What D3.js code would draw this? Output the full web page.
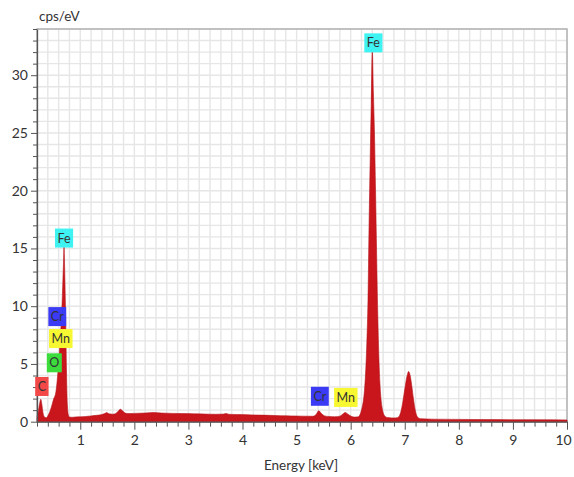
<!DOCTYPE html>
<html>
<head>
<meta charset="utf-8">
<script src="https://cdn.jsdelivr.net/npm/d3@7"></script>
<style>
  body { margin: 0; background: #fff; }
  text { font-family: Lato, "Open Sans", sans-serif; fill: #333; }
</style>
</head>
<body>
<svg id="chart" width="574" height="477"></svg>
<script>
// spectrum (keV, cps/eV)
const energy = [
  0.20, 0.22, 0.25, 0.27, 0.29, 0.31, 0.34, 0.37, 0.40, 0.44, 0.48, 0.51, 0.53,
  0.55, 0.57, 0.59, 0.61, 0.63, 0.65, 0.67, 0.69, 0.70, 0.71, 0.73, 0.745, 0.76,
  0.78, 0.80, 0.85, 0.90, 1.00, 1.10, 1.20, 1.30, 1.40, 1.45, 1.49, 1.53, 1.60,
  1.66, 1.70, 1.74, 1.78, 1.83, 1.90, 2.00, 2.20, 2.35, 2.50, 2.70, 2.90, 3.10,
  3.30, 3.50, 3.65, 3.70, 3.75, 3.90, 4.10, 4.30, 4.50, 4.70, 4.90, 5.10, 5.30,
  5.36, 5.41, 5.46, 5.52, 5.60, 5.70, 5.80, 5.85, 5.90, 5.95, 6.02, 6.08,
  6.14, 6.18, 6.21, 6.24, 6.26, 6.28, 6.30, 6.32, 6.34, 6.36, 6.38, 6.40, 6.42,
  6.44, 6.46, 6.48, 6.50, 6.52, 6.54, 6.56, 6.59, 6.63, 6.68, 6.76, 6.82,
  6.86, 6.90, 6.93, 6.96, 6.99, 7.02, 7.05, 7.07, 7.10, 7.13, 7.16, 7.19, 7.22,
  7.26, 7.32, 7.50, 8.00, 8.50, 9.00, 9.50, 10.00
];
const cps = [
  0.35, 0.8, 1.6, 1.95, 1.5, 0.8, 0.4, 0.35, 0.5, 0.9, 1.5, 2.0, 2.2,
  2.6, 3.4, 4.5, 5.8, 7.2, 8.8, 11.0, 13.8, 15.2, 13.5, 9.0, 4.5, 1.6,
  0.6, 0.4, 0.38, 0.4, 0.42, 0.45, 0.5, 0.55, 0.62, 0.7, 0.8, 0.68, 0.65,
  0.72, 0.9, 1.08, 0.95, 0.75, 0.7, 0.72, 0.75, 0.8, 0.75, 0.72, 0.7, 0.68,
  0.66, 0.64, 0.66, 0.72, 0.64, 0.62, 0.6, 0.57, 0.55, 0.52, 0.5, 0.48, 0.47,
  0.62, 0.95, 0.7, 0.5, 0.45, 0.43, 0.48, 0.65, 0.8, 0.65, 0.45, 0.4,
  0.42, 0.7, 1.2, 2.0, 3.0, 4.6, 7.0, 10.5, 17.0, 22.5, 27.5, 32.2, 28.5,
  25.0, 20.0, 14.5, 9.5, 5.8, 3.4, 2.0, 1.0, 0.5, 0.36, 0.33, 0.33,
  0.35, 0.5, 0.9, 1.6, 2.5, 3.4, 4.1, 4.35, 4.0, 3.1, 2.0, 1.1, 0.55,
  0.3, 0.25, 0.22, 0.2, 0.18, 0.17, 0.17, 0.15
];

// element labels
const labelText   = ["Fe", "Fe", "Cr", "Mn", "O", "C", "Cr", "Mn"];
const labelEnergy = [6.42, 0.70, 0.575, 0.64, 0.52, 0.29, 5.43, 5.91];
const labelCps    = [32.8, 15.9, 9.1, 7.2, 5.1, 3.05, 2.2, 2.1];
const labelFill   = ["#3ff3f3", "#3ff3f3", "#3b3bf5", "#f8f832", "#3ddc3d", "#f24848", "#3b3bf5", "#f8f832"];
const labelInk    = ["#222", "#222", "#fff", "#222", "#222", "#222", "#fff", "#222"];

const xTicks = [1, 2, 3, 4, 5, 6, 7, 8, 9, 10];
const yTicks = [0, 5, 10, 15, 20, 25, 30];

const svg = d3.select('#chart');

const x = d3.scaleLinear().domain([0.2, 10]).range([37, 567]);
const y = d3.scaleLinear().domain([0, 34]).range([421.7, 29]);

// grid
const xGrid = d3.range(2, 101, 2).map(v => v / 10);
const yGrid = d3.range(1, 35);
svg.append('g')
  .attr('stroke', '#e6e6e6')
  .attr('stroke-width', 1.4)
  .selectAll('line')
  .data(xGrid)
  .join('line')
    .attr('x1', d => x(d)).attr('x2', d => x(d))
    .attr('y1', y(0)).attr('y2', y(34));
svg.append('g')
  .attr('stroke', '#e6e6e6')
  .attr('stroke-width', 1.4)
  .selectAll('line')
  .data(yGrid)
  .join('line')
    .attr('x1', x(0.2)).attr('x2', x(10))
    .attr('y1', d => y(d)).attr('y2', d => y(d));

// frame
svg.append('rect')
  .attr('x', x(0.2)).attr('y', y(34))
  .attr('width', x(10) - x(0.2)).attr('height', y(0) - y(34))
  .attr('fill', 'none')
  .attr('stroke', '#b3b3b3')
  .attr('stroke-width', 1.5);

// spectrum
const pts = energy.map((e, i) => [e, cps[i]]);
const area = d3.area()
  .x(d => x(d[0]))
  .y0(y(0))
  .y1(d => y(d[1]))
  .curve(d3.curveMonotoneX);
svg.append('path')
  .datum(pts)
  .attr('d', area)
  .attr('fill', '#c8161c')
  .attr('stroke', '#b5121a')
  .attr('stroke-width', 0.6);

// axes
svg.append('g')
  .attr('transform', `translate(0,${y(0)})`)
  .call(d3.axisBottom(x).tickValues(xTicks).tickSize(8).tickPadding(5).tickSizeOuter(0))
  .call(g => g.selectAll('.tick text').filter(d => d === 10).attr('dx', -4));
svg.append('g')
  .attr('transform', `translate(0,${y(0)})`)
  .call(d3.axisBottom(x).tickValues(xGrid.filter(v => Math.abs(v - Math.round(v)) > 0.01)).tickSize(5).tickFormat('').tickSizeOuter(0))
  .call(g => g.select('.domain').remove());

svg.append('g')
  .attr('transform', `translate(${x(0.2)},0)`)
  .call(d3.axisLeft(y).tickValues(yTicks).tickSize(6).tickPadding(3).tickSizeOuter(0));
svg.append('g')
  .attr('transform', `translate(${x(0.2)},0)`)
  .call(d3.axisLeft(y).tickValues(yGrid.filter(v => v % 5 !== 0)).tickSize(4).tickFormat('').tickSizeOuter(0))
  .call(g => g.select('.domain').remove());

svg.selectAll('.domain').attr('stroke', '#555').attr('stroke-width', 1.3);
svg.selectAll('.tick line').attr('stroke', '#555');
svg.selectAll('.tick text')
  .attr('font-size', 14)
  .attr('font-family', 'Lato, sans-serif')
  .attr('fill', '#333');

// axis titles
svg.append('text')
  .attr('x', 39).attr('y', 21)
  .attr('font-size', 13.5)
  .text('cps/eV');
svg.append('text')
  .attr('x', 301).attr('y', 470)
  .attr('text-anchor', 'middle')
  .attr('font-size', 13.5)
  .text('Energy [keV]');

// element tags
const tags = svg.append('g')
  .selectAll('g')
  .data(labelText)
  .join('g')
    .attr('transform', (d, i) => `translate(${x(labelEnergy[i])},${y(labelCps[i])})`);
tags.append('text')
  .attr('text-anchor', 'middle')
  .attr('dy', '0.36em')
  .attr('font-size', 12.5)
  .attr('fill', (d, i) => labelInk[i])
  .text(d => d);
tags.each(function (d, i) {
  const g = d3.select(this);
  const w = g.select('text').node().getComputedTextLength() + 5;
  g.insert('rect', 'text')
    .attr('x', -w / 2).attr('y', -9.5)
    .attr('width', w).attr('height', 19)
    .attr('fill', labelFill[i]);
});
</script>
</body>
</html>
